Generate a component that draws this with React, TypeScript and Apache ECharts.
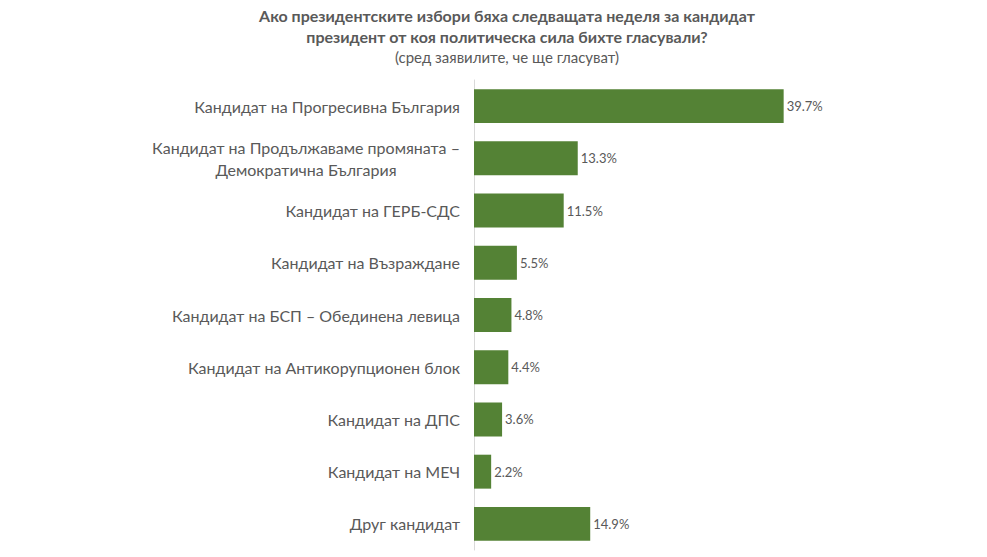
import React, { useEffect, useRef } from "react";
import * as echarts from "echarts";

const categories = [
  "Кандидат на Прогресивна България",
  "Кандидат на Продължаваме промяната –\nДемократична България",
  "Кандидат на ГЕРБ-СДС",
  "Кандидат на Възраждане",
  "Кандидат на БСП – Обединена левица",
  "Кандидат на Антикорупционен блок",
  "Кандидат на ДПС",
  "Кандидат на МЕЧ",
  "Друг кандидат",
];
const values = [39.7, 13.3, 11.5, 5.5, 4.8, 4.4, 3.6, 2.2, 14.9];
const titleText =
  "Ако президентските избори бяха следващата неделя за кандидат\nпрезидент от коя политическа сила бихте гласували?";
const subtitleText = "(сред заявилите, че ще гласуват)";

const FONT = "Lato, 'Open Sans', sans-serif";

function measure(text: string, font: string): number {
  const c = document.createElement("canvas");
  const ctx = c.getContext("2d");
  if (!ctx) return 300;
  ctx.font = font;
  return ctx.measureText(text).width;
}

export default function App() {
  const ref = useRef<HTMLDivElement>(null);
  useEffect(() => {
    if (!ref.current) return;
    const chart = echarts.init(ref.current, undefined, { renderer: "svg" });
    const labelFontSize = 16;
    const longW = Math.ceil(
      Math.max(
        ...categories[1].split("\n").map((l) => measure(l, `${labelFontSize}px Lato`))
      )
    );
    chart.setOption({
      animation: false,
      title: {
        text: titleText,
        subtext: subtitleText,
        left: 502,
        textAlign: "center",
        top: 0,
        itemGap: 2,
        textStyle: {
          fontFamily: FONT,
          fontSize: 16,
          fontWeight: "bold",
          color: "#595959",
          lineHeight: 21,
          align: "center",
        },
        subtextStyle: {
          fontFamily: FONT,
          fontSize: 15,
          color: "#595959",
          align: "center",
        },
      },
      grid: {
        left: 474,
        top: 80,
        bottom: 7,
        width: 390,
        containLabel: false,
      },
      xAxis: {
        type: "value",
        min: 0,
        max: 50,
        show: false,
        splitLine: { show: false },
      },
      yAxis: {
        type: "category",
        inverse: true,
        data: categories,
        axisLine: { show: true, lineStyle: { color: "#d9d9d9", width: 1 } },
        axisTick: { show: false },
        axisLabel: {
          margin: 14,
          color: "#595959",
          fontFamily: FONT,
          fontSize: labelFontSize,
          lineHeight: 22,
          formatter: (v: string) => {
            if (v.indexOf("\n") >= 0) {
              return v
                .split("\n")
                .map((l) => `{m|${l}}`)
                .join("\n");
            }
            return v;
          },
          rich: {
            m: {
              color: "#595959",
              fontFamily: FONT,
              fontSize: labelFontSize,
              lineHeight: 22,
              align: "center",
              width: longW,
            },
          },
        },
      },
      series: [
        {
          type: "bar",
          data: values,
          barCategoryGap: "35%",
          itemStyle: { color: "#548235" },
          label: {
            show: true,
            position: "right",
            distance: 3,
            color: "#595959",
            fontFamily: FONT,
            fontSize: 13,
            formatter: (p: any) => `${p.value.toFixed(1)}%`,
          },
        },
      ],
    });
    return () => chart.dispose();
  }, []);
  return (
    <div
      ref={ref}
      style={{ position: "fixed", left: 0, top: 0, width: 987, height: 557, background: "#fff" }}
    />
  );
}
